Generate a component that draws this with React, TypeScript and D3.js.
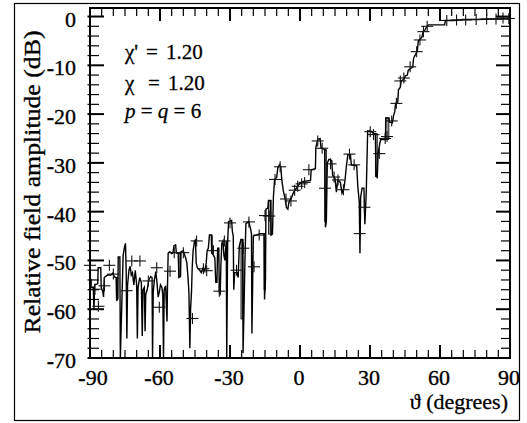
import React from "react";
import * as d3 from "d3";

// Main pattern line (angle in degrees, relative amplitude in dB)
const lineAngle = [
  -90, -89.5, -89.5, -88.6, -88.3, -88.0, -86.7, -86.5, -85.4, -85.2, -84.5, -84.2, -83.9, -82.5, -81.0, -80.2, -79.5, -78.8, -78.6, -78.1,
  -77.9, -77.2, -77.0, -76.6, -76.2, -75.8, -75.2, -74.8, -74.5, -74.2, -73.9, -73.3, -72.8, -72.3, -71.8, -71.2, -70.6, -70.0, -69.7, -69.4,
  -68.7, -68.0, -67.6, -67.3, -66.7, -66.4, -66.1, -65.4, -64.8, -64.0, -63.4, -63.2, -62.9, -62.4, -61.8, -61.3, -60.8, -60.3, -59.8, -59.2,
  -58.8, -58.5, -58.2, -57.6, -57.0, -56.8, -56.5, -55.8, -55.0, -54.5, -54.0, -53.3, -53.0, -52.2, -51.9, -51.2, -51.0, -50.0, -49.5, -49.0,
  -48.5, -48.0, -47.6, -47.2, -46.9, -46.5, -46.2, -45.8, -45.2, -44.8, -44.5, -44.0, -43.0, -42.3, -41.5, -40.8, -40.2, -39.8, -39.3, -38.8,
  -38.0, -37.8, -37.2, -36.5, -36.1, -35.6, -35.3, -34.8, -34.6, -34.2, -33.9, -33.5, -33.0, -32.6, -32.2, -31.6, -31.4, -31.0, -30.6, -29.3,
  -29.0, -28.6, -28.4, -28.0, -27.0, -26.5, -26.0, -25.3, -24.6, -24.4, -24.0, -23.6, -23.2, -22.0, -21.2, -20.8, -20.6, -20.3, -20.0, -17.0,
  -15.4, -15.2, -14.8, -14.6, -13.8, -13.5, -12.6, -12.4, -11.8, -11.4, -10.9, -10.0, -9.5, -8.8, -8.2, -7.8, -7.2, -6.4, -5.8, -5.2,
  -4.8, -4.3, -3.5, -3.0, -2.2, -1.5, -0.7, 0.0, 1.5, 4.5, 4.8, 6.6, 6.8, 7.6, 8.6, 9.0, 10.6, 10.9, 11.3, 11.7,
  12.4, 13.6, 14.0, 15.0, 15.6, 16.2, 17.3, 18.0, 18.8, 19.3, 19.8, 20.5, 21.6, 22.0, 24.3, 24.8, 25.4, 25.7, 26.0, 26.6,
  27.4, 27.8, 28.4, 29.0, 30.5, 31.5, 32.3, 32.6, 33.1, 33.5, 34.2, 34.6, 36.6, 36.8, 38.1, 38.3, 39.6, 40.1, 40.6, 41.0,
  41.9, 42.2, 43.0, 43.4, 44.6, 45.1, 46.0, 46.4, 47.5, 48.3, 48.7, 49.5, 50.3, 50.7, 51.6, 52.3, 52.7, 53.5, 54.2, 55.0,
  62.0, 62.3, 66.0, 70.0, 76.0, 82.0, 90.0,
];
const lineDb = [
  -54, -54, -55.5, -55.5, -60, -55, -54.8, -51.5, -51.5, -55.5, -56.5, -57.5, -53.5, -53, -53, -52.6, -53.4, -53.5, -58.3, -57.8,
  -49.3, -49.3, -70, -63, -56, -49, -47.2, -46.5, -52, -66, -55, -52, -51.2, -53, -52.5, -55, -52, -55, -66, -55.5,
  -53.5, -54.5, -65.5, -56, -55.5, -64.5, -57, -55.8, -54, -53.3, -53.5, -70, -56.5, -54, -52.3, -54.5, -57.5, -56.5, -55, -55.5,
  -57, -70, -56, -55.2, -62.5, -55.5, -48.5, -48.2, -48.6, -48.5, -47.0, -46.8, -48.5, -48.5, -53.5, -53.3, -48.2, -48.0, -48.8, -49.5,
  -50.5, -53.5, -56.5, -68, -60, -56.5, -51.5, -48, -46, -45.8, -50.5, -51.5, -52, -52.5, -51.5, -52.2, -50.5, -48, -47.5, -44.8,
  -44.8, -48.5, -48.8, -49.5, -54.5, -54.5, -47.5, -47.5, -56.5, -56.8, -51, -46.5, -46, -49, -50, -46, -70, -46, -42, -41.8,
  -44, -45, -56, -52.5, -52.5, -53.5, -47, -45.7, -45.7, -69, -60, -50, -42.5, -42, -43.5, -44.5, -65, -55, -45, -44.5,
  -44.5, -58, -54, -39.5, -39.3, -37.7, -37.7, -44.8, -44.6, -37, -33.4, -33, -31, -30.4, -31, -33.5, -35.6, -37.3, -39.2, -39.5,
  -38.2, -37.6, -37, -36.3, -35.6, -35.2, -34.5, -34.2, -33.8, -33.6, -31.4, -31.2, -26.8, -25.2, -25.0, -26.9, -27.3, -43.2, -42, -30,
  -29.3, -29.5, -32.5, -33.2, -36, -33.5, -34, -36.2, -35.3, -33.5, -31, -28.3, -28.3, -30.4, -30.6, -35, -38, -48.5, -37, -35.2,
  -35.2, -42.6, -36, -23.4, -23.5, -24.0, -24.0, -32.8, -33.0, -28, -26, -25.2, -25.2, -20.8, -20.8, -21.6, -21.8, -20.3, -19.5, -17.8,
  -17.5, -15.0, -14.5, -13.2, -12.8, -12.2, -12.0, -11.0, -10.6, -10.4, -8.5, -7.8, -7.0, -5.0, -4.6, -4.2, -3.2, -2.8, -2.2, -1.7,
  -1.7, -0.8, -0.8, -0.6, -0.6, -0.5, -0.5,
];

// Sample points drawn as "+" markers
const markerAngle = [
  -90, -87.9, -86.4, -83.8, -81.7, -80.0, -74.3, -72.1, -68.6, -65.0, -61.4, -60.3, -55.7, -53.9, -50.0, -46.1, -44.3, -41.4, -40.0, -37.1,
  -34.6, -32.4, -30.0, -27.2, -24.3, -21.9, -19.7, -17.5, -15.0, -13.2, -10.7, -8.5, -6.0, -3.9, -2.3, -1.0, 0.7, 2.0, 3.8, 7.6,
  9.5, 10.7, 13.1, 14.6, 16.3, 18.6, 21.2, 23.2, 25.6, 27.6, 30.1, 31.5, 34.0, 36.5, 37.3, 39.3, 41.3, 43.0, 44.5, 47.2,
  50.0, 51.4, 52.9, 54.5, 62.9, 67.1, 71.0, 75.5, 80.0, 84.0, 87.0, 89.5,
];
const markerDb = [
  -51.0, -55.9, -59.4, -55.2, -51.0, -52.8, -56.2, -50.1, -50.1, -54.2, -51.5, -59.6, -52.2, -48.4, -48.4, -61.9, -46.0, -51.7, -52.1, -48.0,
  -56.3, -46.0, -42.3, -52.0, -47.5, -42.1, -51.3, -44.8, -40.8, -40.9, -33.4, -30.8, -37.4, -37.8, -35.6, -34.8, -34.3, -34.0, -31.4, -25.5,
  -27.0, -35.2, -30.2, -32.9, -33.5, -35.5, -28.2, -30.4, -44.5, -39.1, -23.6, -24.2, -28.1, -25.0, -24.6, -21.4, -17.8, -13.2, -12.6, -10.3,
  -7.2, -4.8, -3.1, -2.0, -0.8, -0.7, -0.7, -0.6, -0.5, -0.5, -0.3, -0.4,
];

// Narrow shaded notches (angle from, angle to, upper dB, lower dB)
const notchFrom = [-78.6, -51.9, -38.0, -25.3, -15.4, -13.5, 10.6, 32.3, 36.6];
const notchTo = [-78.1, -51.2, -37.6, -24.4, -14.8, -12.4, 11.3, 33.1, 38.1];
const notchTop = [-53.5, -48.5, -44.8, -45.7, -44.5, -37.7, -27.3, -24.0, -20.8];
const notchBottom = [-58.0, -53.3, -48.5, -62.0, -56.0, -44.6, -42.0, -32.8, -25.2];

const xTickValues = [-90, -60, -30, 0, 30, 60, 90];
const xTickLabels = ["-90", "-60", "-30", "0", "30", "60", "90"];
const yTickValues = [0, -10, -20, -30, -40, -50, -60, -70];
const yTickLabels = ["0", "-10", "-20", "-30", "-40", "-50", "-60", "-70"];

const FONT = '"Liberation Serif", "Times New Roman", Times, serif';
const tf = { fontFamily: FONT };

function Label({ text, ...rest }: any) {
  const neg = text.startsWith("-");
  return (
    <text {...rest} style={tf} stroke="#000" strokeWidth={0.35}>
      {neg && <tspan fontWeight="bold">-</tspan>}
      {neg ? text.slice(1) : text}
    </text>
  );
}

export default function App() {
  const W = 527;
  const H = 423;
  const left = 90, right = 510, top = 8, bottom = 358;
  const x = d3.scaleLinear().domain([-90, 90]).range([left, right]);
  const y = d3.scaleLinear().domain([-70, 1.75]).range([bottom, top]);

  const pathD = d3
    .line<number>()
    .x((_, i) => x(lineAngle[i]))
    .y((_, i) => y(lineDb[i]))(lineAngle.map((_, i) => i)) as string;

  const xMinor = d3.range(-90, 91, 5);
  const yMinor = d3.range(-70, 1, 2);

  return (
    <svg
      width={W}
      height={H}
      style={{ position: "absolute", left: 0, top: 0, background: "#fff", fontFamily: FONT }}
    >
      <rect x={0} y={0} width={W} height={H} fill="#fff" />
      <rect x={14.5} y={3.5} width={505} height={417} fill="none" stroke="#000" strokeWidth={1.2} />

      {/* ticks */}
      <g stroke="#000">
        {xMinor.map((v) => {
          const major = v % 30 === 0;
          const len = major ? 13 : 8;
          return (
            <g key={"xt" + v} strokeWidth={major ? 2 : 1.2}>
              <line x1={x(v)} x2={x(v)} y1={bottom} y2={bottom - len} />
              <line x1={x(v)} x2={x(v)} y1={top} y2={top + len} />
            </g>
          );
        })}
        {yMinor.map((v) => {
          const major = v % 10 === 0;
          const len = major ? 14 : 9;
          return (
            <g key={"yt" + v} strokeWidth={major ? 2 : 1.2}>
              <line x1={left - 2.5} x2={left + len} y1={y(v)} y2={y(v)} />
              <line x1={right - len} x2={right} y1={y(v)} y2={y(v)} />
            </g>
          );
        })}
      </g>

      {/* shaded notches */}
      <g fill="#9a9a9a" stroke="#000" strokeWidth={0.8}>
        {notchFrom.map((a, i) => (
          <rect
            key={"n" + i}
            x={x(a)}
            y={y(notchTop[i])}
            width={x(notchTo[i]) - x(a)}
            height={y(notchBottom[i]) - y(notchTop[i])}
          />
        ))}
      </g>

      {/* data line */}
      <path d={pathD} fill="none" stroke="#000" strokeWidth={1.4} strokeLinejoin="miter" />

      {/* markers */}
      <g stroke="#111" strokeWidth={1.1}>
        {markerAngle.map((a, i) => {
          const cx = x(a);
          const cy = y(markerDb[i]);
          return (
            <g key={"m" + i}>
              <line x1={cx - 6} x2={cx + 6} y1={cy} y2={cy} />
              <line x1={cx} x2={cx} y1={cy - 5.5} y2={cy + 5.5} />
            </g>
          );
        })}
      </g>

      {/* frame */}
      <rect x={left} y={top} width={right - left} height={bottom - top} fill="none" stroke="#000" strokeWidth={2} />

      {/* tick labels */}
      <g fontSize={22} fill="#000">
        {xTickValues.map((v, i) => (
          <Label
            key={"xl" + v}
            text={xTickLabels[i]}
            x={v === -90 ? x(v) + 3 : x(v) - 1}
            y={385}
            textAnchor="middle"
          />
        ))}
        {yTickValues.map((v, i) => (
          <Label key={"yl" + v} text={yTickLabels[i]} x={76} y={y(v) + 10} textAnchor="end" />
        ))}
      </g>

      {/* axis titles */}
      <text
        transform={`translate(40,182) rotate(-90)`}
        textAnchor="middle"
        fontSize={23}
        textLength={303}
        lengthAdjust="spacingAndGlyphs"
        style={tf}
        stroke="#000"
        strokeWidth={0.35}
      >
        Relative field amplitude (dB)
      </text>
      <text x={508} y={409} textAnchor="end" fontSize={22} style={tf} stroke="#000" strokeWidth={0.3}>
        ϑ (degrees)
      </text>

      {/* annotation */}
      <g fontSize={21} stroke="#000" strokeWidth={0.3}>
        <text x={125} y={59} style={tf}>χ'</text>
        <text x={146} y={59} style={tf}>=</text>
        <text x={166} y={59} style={tf}>1.20</text>
        <text x={125} y={90} style={tf}>χ</text>
        <text x={148} y={90} style={tf}>=</text>
        <text x={168} y={90} style={tf}>1.20</text>
        <text x={125} y={118} style={tf}>
          <tspan fontStyle="italic">p</tspan>
          <tspan> = </tspan>
          <tspan fontStyle="italic">q</tspan>
          <tspan> = 6</tspan>
        </text>
      </g>
    </svg>
  );
}
